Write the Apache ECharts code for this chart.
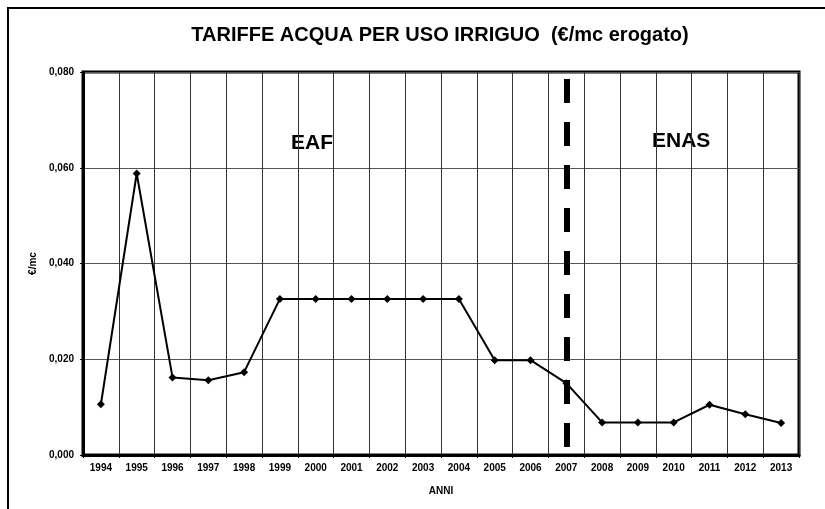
<!DOCTYPE html>
<html><head><meta charset="utf-8">
<script src="https://cdn.jsdelivr.net/npm/echarts@6/dist/echarts.min.js"></script>
<style>html,body{margin:0;padding:0;background:#fff}#c{width:825px;height:509px}</style>
</head><body><div id="c"></div>
<script>
const years = ['1994','1995','1996','1997','1998','1999','2000','2001','2002','2003','2004','2005','2006','2007','2008','2009','2010','2011','2012','2013'];
const tariffs = [0.0106,0.0588,0.0162,0.0156,0.0173,0.0326,0.0326,0.0326,0.0326,0.0326,0.0326,0.0198,0.0198,0.0150,0.0068,0.0068,0.0068,0.0105,0.0085,0.0067];
const yTicks = [0,0.02,0.04,0.06,0.08];
const dividerYear = '2007';
const titleText = 'TARIFFE ACQUA PER USO IRRIGUO  (€/mc erogato)';
const periodLabels = ['EAF','ENAS'];

const chart = echarts.init(document.getElementById('c'));
const F = 'Liberation Sans, Arial, sans-serif';
chart.setOption({
  animation:false,
  backgroundColor:'#fff',
  title:{text:titleText,left:435,top:20,textAlign:'center',
    textStyle:{fontFamily:F,fontSize:20,fontWeight:'bold',color:'#000'}},
  grid:{left:83,right:26,top:72,bottom:54,show:true,borderColor:'#000',borderWidth:3},
  xAxis:{type:'category',data:years,boundaryGap:true,
    name:'ANNI',nameLocation:'middle',nameGap:31,
    nameTextStyle:{fontFamily:F,fontSize:10,fontWeight:'bold',color:'#000'},
    axisLine:{lineStyle:{color:'#000',width:3}},
    axisTick:{show:true,length:3,lineStyle:{color:'#000'}},
    axisLabel:{fontFamily:F,fontSize:10,fontWeight:'bold',color:'#000',margin:8,interval:0},
    splitLine:{show:true,interval:0,lineStyle:{color:'#333',width:1}}},
  yAxis:{type:'value',min:0,max:yTicks[yTicks.length-1],interval:0.02,
    name:'€/mc',nameLocation:'middle',nameGap:44,nameRotate:90,
    nameTextStyle:{fontFamily:F,fontSize:10,fontWeight:'bold',color:'#000'},
    axisLine:{show:true,lineStyle:{color:'#000',width:3}},
    axisTick:{show:true,length:3,lineStyle:{color:'#000'}},
    axisLabel:{fontFamily:F,fontSize:10,fontWeight:'bold',color:'#000',margin:9,
      formatter:v=>v.toFixed(3).replace('.',',')},
    splitLine:{show:true,lineStyle:{color:'#555',width:1}}},
  series:[{type:'line',data:tariffs,symbol:'diamond',symbolSize:8,
    lineStyle:{color:'#000',width:2},itemStyle:{color:'#000'},
    markLine:{silent:true,symbol:'none',label:{show:false},
      lineStyle:{color:'#000',width:6,type:[24,19],dashOffset:35},
      data:[{xAxis:dividerYear}]}}],
  graphic:[
    {type:'text',left:291,top:133,style:{text:periodLabels[0],font:'bold 21px '+F,fill:'#000'}},
    {type:'text',left:652,top:131,style:{text:periodLabels[1],font:'bold 21px '+F,fill:'#000'}},
    {type:'polyline',shape:{points:[[8,509],[8,8],[825,8]]},style:{stroke:'#000',lineWidth:2,fill:null}}
  ]
});
</script></body></html>
